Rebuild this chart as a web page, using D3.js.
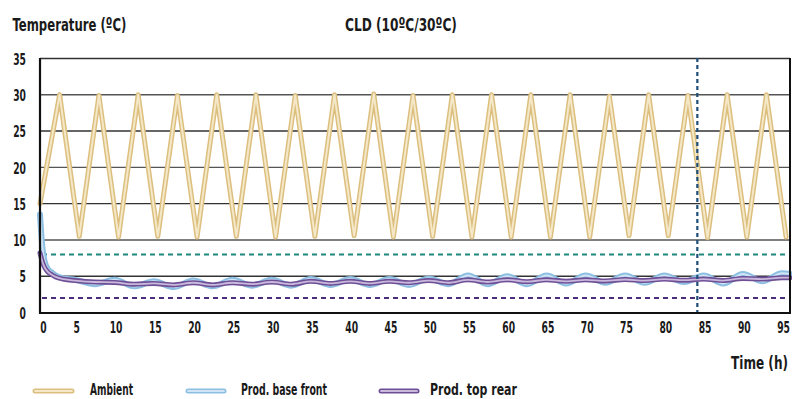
<!DOCTYPE html>
<html><head><meta charset="utf-8">
<script src="https://cdn.jsdelivr.net/npm/d3@7"></script>
<style>
html,body{margin:0;padding:0;background:#fff;}
svg text{font-family:"DejaVu Sans Condensed","DejaVu Sans",sans-serif;font-stretch:condensed;fill:#1a1a1a;font-weight:bold;}
</style></head>
<body><svg id="c" width="792" height="399"></svg>
<script>
// ---- data ----
const ambientTime = [0,2.5,5,7.5,10,12.5,15,17.5,20,22.5,25,27.5,30,32.5,35,37.5,40,42.5,45,47.5,50,52.5,55,57.5,60,62.5,65,67.5,70,72.5,75,77.5,80,82.5,85,87.5,90,92.5,95];
const ambientTemp = [15,30,10.5,29.9,10.4,30,10.5,29.9,10.4,30,10.5,30,10.4,29.9,10.5,30,10.6,30.1,10.4,29.9,10.5,30,10.4,30,10.4,30,10.4,30,10.4,29.8,10.6,30,10.6,29.9,10.3,30,10.4,30,10.4];

const prodTime = [0,0.3,0.6,1,1.5,2,3,4.5,7,9.5,12,14.5,17,19.5,22,24.5,27,29.5,32,34.5,37,39.5,42,44.5,47,49.5,52,54.5,57,59.5,62,64.5,67,69.5,72,74.5,77,79.5,82,84.5,87,89.5,92,94.5,95.5];
const baseFront = [13.5,9,7,6,5.5,5.1,4.7,4.5,3.9,4.5,3.6,4.3,3.5,4.4,3.6,4.5,3.7,4.5,3.7,4.6,3.8,4.6,3.8,4.6,3.8,4.7,3.9,5.1,3.9,5.0,3.9,5.1,4.0,5.1,4.1,5.1,4.1,5.1,4.2,5.1,4.0,5.3,4.3,5.4,5.3];
const topRear   = [8.2,7,6.2,5.6,5.2,4.9,4.6,4.4,4.2,4.15,3.9,4.0,3.8,4.1,3.8,4.1,3.9,4.2,3.9,4.3,4.0,4.3,4.0,4.3,4.1,4.4,4.1,4.5,4.2,4.5,4.25,4.5,4.3,4.5,4.35,4.55,4.4,4.6,4.45,4.6,4.4,4.7,4.6,4.8,4.8];

const limitHigh = 8, limitLow = 2, markerTime = 83.7;
const xTicks = d3.range(0, 96, 5);
const yTicks = [0,5,10,15,20,25,30,35];
const seriesNames = ["Ambient","Prod. base front","Prod. top rear"];

// ---- scales ----
const svg = d3.select("#c");
const x = d3.scaleLinear().domain([0,95.5]).range([40,790]);
const y = d3.scaleLinear().domain([0,35]).range([312.5,58.5]);

// horizontal squeeze of a text element about its anchor point
function squeeze(sel, target){
  sel.each(function(d){
    const t = typeof target === "function" ? target(d) : target;
    const w = this.getComputedTextLength();
    const s = Math.min(1, t / w);
    const ax = +this.getAttribute("x") || 0;
    this.setAttribute("transform", `translate(${ax},0) scale(${s},1) translate(${-ax},0)`);
  });
}

// gridlines
svg.append("g").selectAll("line").data(yTicks.filter(d=>d>0)).join("line")
  .attr("x1",40).attr("x2",790).attr("y1",d=>y(d)).attr("y2",d=>y(d))
  .attr("stroke",d=>d%10===5?"#333":"#555").attr("stroke-width",1.4);

// limit dashed lines
svg.append("line").attr("x1",42).attr("x2",788).attr("y1",y(limitHigh)).attr("y2",y(limitHigh))
  .attr("stroke","#1f8a7c").attr("stroke-width",2).attr("stroke-dasharray","5,4");
svg.append("line").attr("x1",42).attr("x2",788).attr("y1",y(limitLow)).attr("y2",y(limitLow))
  .attr("stroke","#4d2e7e").attr("stroke-width",2).attr("stroke-dasharray","5,4");

const styles = [
  {outer:"#dcbf7e", inner:"#f4e8c8", ow:5, iw:2},
  {outer:"#8dbfe2", inner:"#cfe5f5", ow:6, iw:2},
  {outer:"#6e4f96", inner:"#c9b9dc", ow:5, iw:1.8}
];
const series = [
  {t:ambientTime, v:ambientTemp, curve:d3.curveLinear},
  {t:prodTime, v:baseFront, curve:d3.curveMonotoneX},
  {t:prodTime, v:topRear, curve:d3.curveMonotoneX}
];
series.forEach((s,i)=>{
  const pts = s.t.map((t,j)=>[t,s.v[j]]);
  const line = d3.line().x(d=>x(d[0])).y(d=>y(d[1])).curve(s.curve);
  svg.append("path").attr("d",line(pts)).attr("fill","none")
    .attr("stroke",styles[i].outer).attr("stroke-width",styles[i].ow).attr("stroke-linejoin","round").attr("stroke-linecap","round");
  svg.append("path").attr("d",line(pts)).attr("fill","none")
    .attr("stroke",styles[i].inner).attr("stroke-width",styles[i].iw).attr("stroke-linejoin","round").attr("stroke-linecap","round");
});

// vertical marker
svg.append("line").attr("x1",x(markerTime)).attr("x2",x(markerTime)).attr("y1",58).attr("y2",312)
  .attr("stroke","#1f4e79").attr("stroke-width",2.2).attr("stroke-dasharray","4,3");

// frame
svg.append("line").attr("x1",40).attr("x2",40).attr("y1",58).attr("y2",313.5).attr("stroke","#111").attr("stroke-width",2.2);
svg.append("line").attr("x1",790).attr("x2",790).attr("y1",58).attr("y2",313.5).attr("stroke","#111").attr("stroke-width",2);
svg.append("line").attr("x1",39).attr("x2",791).attr("y1",313).attr("y2",313).attr("stroke","#111").attr("stroke-width",2.2);

const digitW = s => String(s).length*6.4;

// axes labels
const yAxis = d3.axisLeft(y).tickValues(yTicks).tickSize(0).tickPadding(14);
const gy = svg.append("g").attr("transform","translate(40,0)").call(yAxis);
gy.select(".domain").remove();
gy.selectAll("text").attr("font-size",16).attr("fill","#1a1a1a").attr("dy","0.36em")
  .style("font-family",'"DejaVu Sans Condensed","DejaVu Sans",sans-serif');
squeeze(gy.selectAll("text"), digitW);

const xAxis = d3.axisBottom(x).tickValues(xTicks).tickSize(0).tickPadding(9);
const gx = svg.append("g").attr("transform","translate(0,313)").call(xAxis);
gx.select(".domain").remove();
gx.selectAll("text").attr("font-size",16).attr("fill","#1a1a1a").attr("x",d=>d===0?3:-3)
  .style("font-family",'"DejaVu Sans Condensed","DejaVu Sans",sans-serif');
squeeze(gx.selectAll("text"), digitW);

// titles
function label(txt,xp,yp,size,len,anchor){
  const t = svg.append("text").attr("x",xp).attr("y",yp).attr("font-size",size)
    .attr("text-anchor",anchor||"start").text(txt);
  squeeze(t, len);
  return t;
}
label("Temperature (ºC)",12.5,31,18,114);
label("CLD (10ºC/30ºC)",345,31,18,112);
label("Time (h)",788,369,18,57,"end");

// legend
const legX = [[35,72,90,43],[188,224,241,86],[381,417,430,87]];
seriesNames.forEach((n,i)=>{
  const g = svg.append("g");
  g.append("line").attr("x1",legX[i][0]).attr("x2",legX[i][1]).attr("y1",391).attr("y2",391)
    .attr("stroke",styles[i].outer).attr("stroke-width",5).attr("stroke-linecap","round");
  g.append("line").attr("x1",legX[i][0]).attr("x2",legX[i][1]).attr("y1",391).attr("y2",391)
    .attr("stroke",styles[i].inner).attr("stroke-width",1.8).attr("stroke-linecap","round");
  label(n,legX[i][2],395,16,legX[i][3]);
});
</script></body></html>
